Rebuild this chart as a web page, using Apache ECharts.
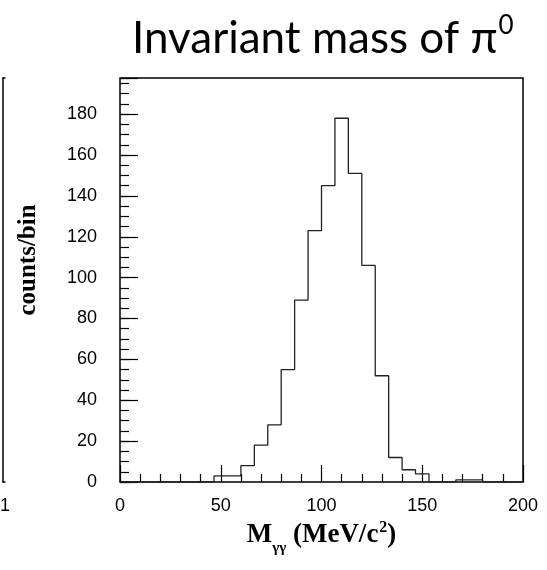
<!DOCTYPE html>
<html>
<head>
<meta charset="utf-8">
<script src="https://cdn.jsdelivr.net/npm/echarts@6/dist/echarts.min.js"></script>
<style>
  html, body { margin: 0; padding: 0; background: #fff; }
  #chart { width: 547px; height: 570px; }
</style>
</head>
<body>
<div id="chart"></div>
<script>
// ---- data ----
const titleText = 'Invariant mass of π';
const titleSup = '0';
const xRange = [0, 200];
const nBins = 30;
// counts per bin (30 bins of width 200/30 MeV/c^2)
const counts = [0, 0, 0, 0, 0, 0, 0, 3, 3, 8,
                18, 28, 55, 89, 123, 145, 178, 151, 106, 52,
                12, 6, 4, 0, 0, 1, 1, 0, 0, 0];
const yMax = 197.7;
const xTickLabels = [0, 50, 100, 150, 200];
const yTickLabels = [0, 20, 40, 60, 80, 100, 120, 140, 160, 180];
const yAxisTitle = 'counts/bin';
const leftPanelLabel = '1';

// ---- build step data ----
const binW = (xRange[1] - xRange[0]) / nBins;
const stepData = counts.map((c, i) => [xRange[0] + i * binW, c]);
stepData.push([xRange[1], counts[counts.length - 1]]);

const chart = echarts.init(document.getElementById('chart'), null, { renderer: 'canvas' });
const serifBold = { fontFamily: 'Liberation Serif', fontWeight: 'bold', color: '#000' };
const frameLine = { show: true, lineStyle: { color: '#000', width: 1.5 } };

chart.setOption({
  animation: false,
  backgroundColor: '#fff',
  title: {
    text: '{a|' + titleText + '}{s|' + titleSup + '}',
    left: 127, top: 3,
    textStyle: {
      fontWeight: 'normal',
      rich: {
        a: { fontFamily: 'Lato', fontWeight: 'normal', fontSize: 44, lineHeight: 62, color: '#000' },
        s: { fontFamily: 'Lato', fontWeight: 'normal', fontSize: 26, color: '#000', verticalAlign: 'top', padding: [5, 0, 0, 1] }
      }
    }
  },
  grid: [
    { left: 120, top: 78, width: 403, height: 404, show: true, borderColor: '#000', borderWidth: 1.5, backgroundColor: 'transparent' },
    { left: 0, top: 78, width: 5, height: 404, show: false }
  ],
  xAxis: [
    {
      type: 'value', gridIndex: 0, min: xRange[0], max: xRange[1], interval: 50,
      axisLine: { show: false },
      axisTick: { inside: true, length: 17, lineStyle: { color: '#000', width: 1.2 } },
      minorTick: { show: true, splitNumber: 5, length: 8, lineStyle: { color: '#000', width: 1.2 } },
      splitLine: { show: false },
      axisLabel: {
        fontFamily: 'Liberation Sans', fontSize: 18, color: '#000', margin: 15,
        formatter: v => (xTickLabels.indexOf(v) >= 0 ? String(v) : '')
      },
      name: '{b|M}{sub|γγ}{b| (MeV/c}{sup|2}{b|)}',
      nameLocation: 'middle', nameGap: 30,
      nameTextStyle: {
        ...serifBold, fontSize: 27,
        rich: {
          b: { ...serifBold, fontSize: 27 },
          sub: { fontFamily: 'Liberation Serif', fontSize: 15, color: '#000', lineHeight: 42, verticalAlign: 'bottom' },
          sup: { ...serifBold, fontSize: 16, verticalAlign: 'top', padding: [6, 0, 0, 1] }
        }
      }
    },
    {
      type: 'value', gridIndex: 1, min: 0, max: 1, interval: 1, position: 'bottom',
      axisLine: frameLine, axisTick: { show: false }, splitLine: { show: false },
      axisLabel: {
        fontFamily: 'Liberation Sans', fontSize: 18, color: '#000', margin: 15,
        formatter: v => (v === 1 ? leftPanelLabel : '')
      }
    },
    {
      type: 'value', gridIndex: 1, min: 0, max: 1, position: 'top',
      axisLine: frameLine, axisTick: { show: false }, splitLine: { show: false },
      axisLabel: { show: false }
    }
  ],
  yAxis: [
    {
      type: 'value', gridIndex: 0, min: 0, max: yMax, interval: 20, position: 'left',
      axisLine: { show: false },
      axisTick: { inside: true, length: 18, lineStyle: { color: '#000', width: 1.2 } },
      splitLine: { show: false },
      axisLabel: {
        fontFamily: 'Liberation Sans', fontSize: 18, color: '#000', margin: 23,
        formatter: v => (yTickLabels.indexOf(v) >= 0 ? String(v) : '')
      },
      name: yAxisTitle, nameLocation: 'middle', nameGap: 79,
      nameTextStyle: { ...serifBold, fontSize: 25, padding: [0, 0, 0, 40] }
    },
    {
      type: 'value', gridIndex: 0, min: 0, max: yMax, interval: 5, position: 'left', offset: 0,
      axisLine: { show: false },
      axisTick: { inside: true, length: 9, lineStyle: { color: '#000', width: 1.2 } },
      splitLine: { show: false }, axisLabel: { show: false }
    },
    {
      type: 'value', gridIndex: 1, min: 0, max: 1, position: 'right',
      axisLine: frameLine, axisTick: { show: false }, splitLine: { show: false },
      axisLabel: { show: false }
    }
  ],
  series: [
    {
      type: 'line', xAxisIndex: 0, yAxisIndex: 0, step: 'end',
      data: stepData, showSymbol: false, symbol: 'none',
      lineStyle: { color: '#222', width: 1.3 }
    }
  ]
});
</script>
</body>
</html>
